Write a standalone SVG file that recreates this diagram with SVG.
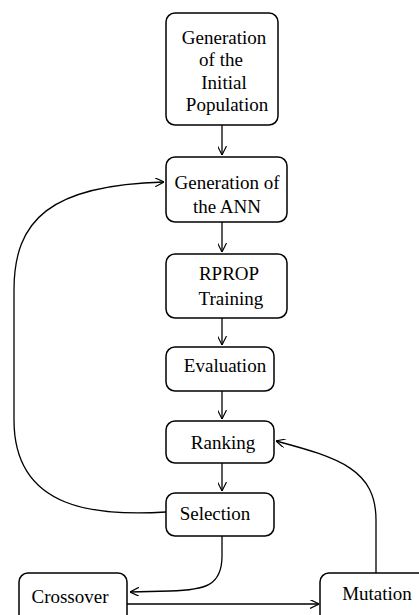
<svg xmlns="http://www.w3.org/2000/svg" width="419" height="615" viewBox="0 0 419 615">
<defs>
<marker id="arr" viewBox="0 0 10 10" refX="10" refY="5" markerWidth="9" markerHeight="9" markerUnits="userSpaceOnUse" orient="auto">
<path d="M0,0 L10,5 L0,10" fill="none" stroke="#000" stroke-width="1.3"/>
</marker>
<style>
.box{fill:#fff;stroke:#000;stroke-width:1.5}
.t{font-family:"Liberation Serif","Times New Roman",serif;font-size:19px;fill:#000;text-anchor:middle}
.c{fill:none;stroke:#000;stroke-width:1.3;marker-end:url(#arr)}
</style>
</defs>
<rect width="419" height="615" fill="#fff"/>
<g id="connectors">
<path class="c" d="M222 125 L222 155"/>
<path class="c" d="M222 222 L222 252"/>
<path class="c" d="M222 318 L222 345"/>
<path class="c" d="M222 391 L222 419"/>
<path class="c" d="M222 463 L222 491"/>
<path class="c" d="M222 536 L222 556 C222 586 205 590 170 591 L130 592"/>
<path class="c" d="M127 604 L319 604"/>
<path class="c" d="M376 573 L376 520 C376 470 340 458 276 441"/>
<path class="c" d="M166 512 C100 516 14 512 14 420 L14 290 C14 220 50 185 164 182"/>
</g>
<g id="n1"><rect class="box" x="166" y="13" width="112" height="112" rx="9"/>
<text class="t" x="224" y="44">Generation</text><text class="t" x="221" y="66">of the</text><text class="t" x="224" y="89">Initial</text><text class="t" x="227" y="111">Population</text></g>
<g id="n2"><rect class="box" x="166" y="157" width="121" height="65" rx="9"/>
<text class="t" x="227" y="189">Generation of</text><text class="t" x="227" y="213">the ANN</text></g>
<g id="n3"><rect class="box" x="166" y="254" width="121" height="64" rx="9"/>
<text class="t" x="229" y="280">RPROP</text><text class="t" x="231" y="305">Training</text></g>
<g id="n4"><rect class="box" x="166" y="347" width="108" height="44" rx="9"/>
<text class="t" x="225" y="372">Evaluation</text></g>
<g id="n5"><rect class="box" x="166" y="421" width="108" height="42" rx="9"/>
<text class="t" x="223" y="449">Ranking</text></g>
<g id="n6"><rect class="box" x="166" y="493" width="108" height="43" rx="9"/>
<text class="t" x="215" y="520">Selection</text></g>
<g id="n7"><rect class="box" x="19" y="573" width="108" height="55" rx="9"/>
<text class="t" x="70" y="603">Crossover</text></g>
<g id="n8"><rect class="box" x="320" y="573" width="115" height="55" rx="9"/>
<text class="t" x="377" y="600">Mutation</text></g>
</svg>
